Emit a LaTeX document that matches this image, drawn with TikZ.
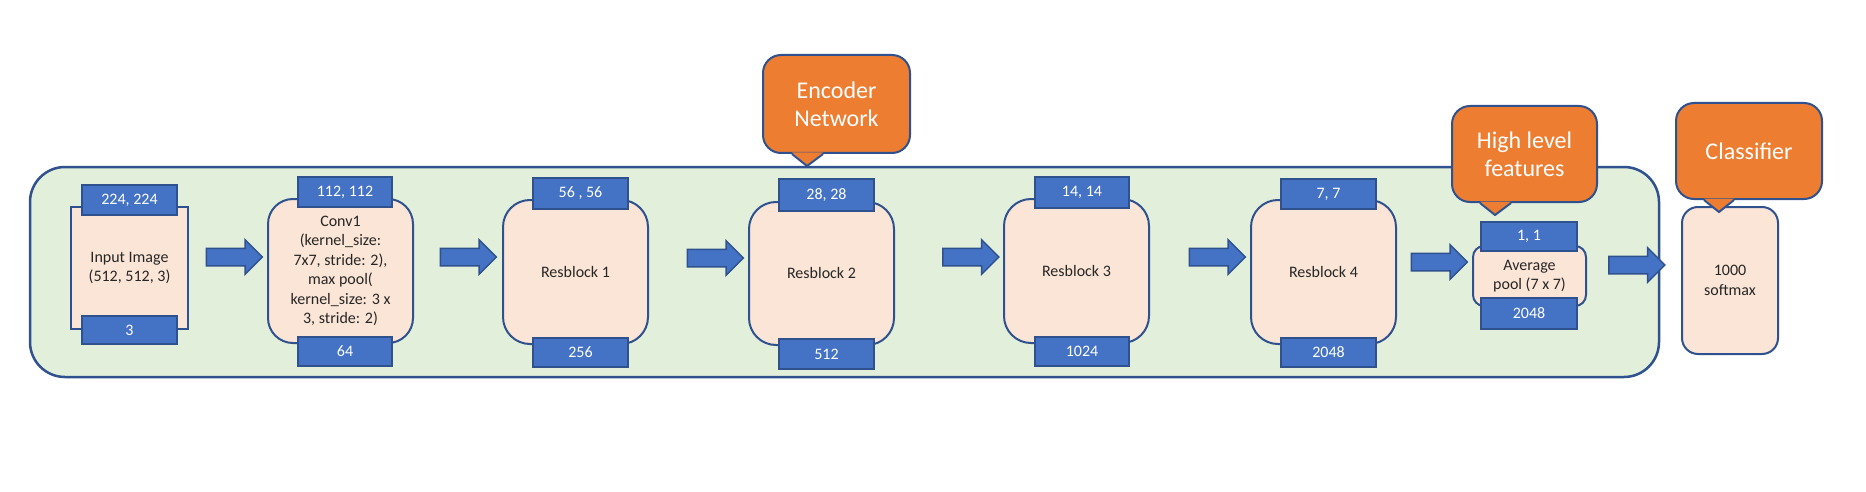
\documentclass[tikz,border=0pt]{standalone}
\usepackage{fontspec}
\setmainfont{Carlito}
\usetikzlibrary{shapes.arrows,calc}
\definecolor{lblue}{HTML}{4472C4}
\definecolor{dblue}{HTML}{2F528F}
\definecolor{peach}{HTML}{FBE5D6}
\definecolor{lgreen}{HTML}{E2EFDA}
\definecolor{calloutorange}{HTML}{ED7D31}
\begin{document}
\begin{tikzpicture}[x=1pt,y=-1pt,
  blockbox/.style={draw=dblue,fill=peach,line width=2pt,inner sep=2pt,align=center,
     font=\fontsize{16}{19.5}\selectfont,text=black!85},
  dimlabel/.style={draw=dblue,fill=lblue,line width=2pt,minimum width=95pt,minimum height=30pt,
     inner sep=0pt,text=white,font=\fontsize{16}{19}\selectfont},
  flowarrow/.style={single arrow,draw=dblue,fill=lblue,line width=1.5pt,minimum height=56pt,
     single arrow head extend=8.5pt,inner xsep=0pt,inner ysep=8pt,single arrow tip angle=90},
  callout/.style={draw=dblue,fill=calloutorange,line width=2pt,rounded corners=18pt,align=center,
     text=white,font=\fontsize{24}{28}\selectfont,inner sep=2pt}
]
\useasboundingbox (0,0) rectangle (1866,492);
% container
\draw[draw=dblue,fill=lgreen,line width=2.5pt,rounded corners=35pt] (30,167) rectangle (1659,377);

% blocks
\node[blockbox,minimum width=117pt,minimum height=122pt] (inp) at (129.5,268) {Input Image\\(512, 512, 3)};
\node[blockbox,rounded corners=25pt,minimum width=145pt,minimum height=144pt] (conv) at (340.5,271)
  {Conv1\\(kernel\_size:\\7x7, stride: 2),\\max pool(\\kernel\_size: 3 x\\3, stride: 2)};
\node[blockbox,rounded corners=27pt,minimum width=145pt,minimum height=144pt] (rb1) at (575.5,272) {Resblock 1};
\node[blockbox,rounded corners=27pt,minimum width=145pt,minimum height=143pt] (rb2) at (821.5,273.5) {Resblock 2};
\node[blockbox,rounded corners=27pt,minimum width=145pt,minimum height=144pt] (rb3) at (1076.5,271) {Resblock 3};
\node[blockbox,rounded corners=27pt,minimum width=145pt,minimum height=144pt] (rb4) at (1323.5,272) {Resblock 4};
\node[blockbox,rounded corners=11pt,minimum width=113pt,minimum height=60pt] (avg) at (1529.5,276) {Average\\pool (7 x 7)};
\node[blockbox,rounded corners=16pt,minimum width=96pt,minimum height=147pt] (sm) at (1730,280.5) {1000\\softmax};

% dimension labels
\node[dimlabel] (inpT) at (129.5,200) {224, 224};
\node[dimlabel,minimum height=28pt] (inpB) at (129.5,330) {3};
\node[dimlabel,minimum width=94pt] (convT) at (345,192) {112, 112};
\node[dimlabel,minimum width=94pt,minimum height=29pt] (convB) at (345,351.5) {64};
\node[dimlabel,minimum height=31pt] (rb1T) at (580.5,193.5) {56 , 56};
\node[dimlabel,minimum height=29pt] (rb1B) at (580.5,352.5) {256};
\node[dimlabel,minimum height=32pt] (rb2T) at (826.5,195) {28, 28};
\node[dimlabel] (rb2B) at (826.5,354) {512};
\node[dimlabel,minimum width=94pt,minimum height=31pt] (rb3T) at (1082,192.5) {14, 14};
\node[dimlabel,minimum width=94pt,minimum height=29pt] (rb3B) at (1082,351.5) {1024};
\node[dimlabel] (rb4T) at (1328.5,194) {7, 7};
\node[dimlabel,minimum height=29pt] (rb4B) at (1328.5,352.5) {2048};
\node[dimlabel,minimum width=96pt,minimum height=29pt] (avgT) at (1529,236.5) {1, 1};
\node[dimlabel,minimum width=96pt,minimum height=31pt] (avgB) at (1529,313.5) {2048};

% block arrows
\node[flowarrow] (a1) at (230,257) {};
\node[flowarrow] (a2) at (464,257) {};
\node[flowarrow] (a3) at (711,258) {};
\node[flowarrow] (a4) at (966.5,257) {};
\node[flowarrow] (a5) at (1213,257) {};
\node[flowarrow] (a6) at (1435,262) {};
\node[flowarrow] (a7) at (1632.5,265) {};

% callouts
\node[callout,minimum width=147pt,minimum height=98pt] (enc) at (836.5,104) {Encoder\\Network};
\node[callout,minimum width=145pt,minimum height=96pt] (hlf) at (1524.5,154) {High level\\features};
\node[callout,minimum width=146pt,minimum height=96pt] (cls) at (1749,151) {Classifier};
\foreach \c/\l/\r/\t in {enc/-44.5/-13.5/-29.5, hlf/-44.5/-13.5/-29.5, cls/-45/-15/-30}{
  \coordinate (\c tip) at ([xshift=\t pt,yshift=-12pt]\c.south);
  \fill[calloutorange] ([xshift=\l pt,yshift=1.5pt]\c.south) -- (\c tip) -- ([xshift=\r pt,yshift=1.5pt]\c.south) -- cycle;
  \draw[dblue,line width=2pt,line join=round] ([xshift=\l pt]\c.south) -- (\c tip) -- ([xshift=\r pt]\c.south);
}
\end{tikzpicture}
\end{document}
